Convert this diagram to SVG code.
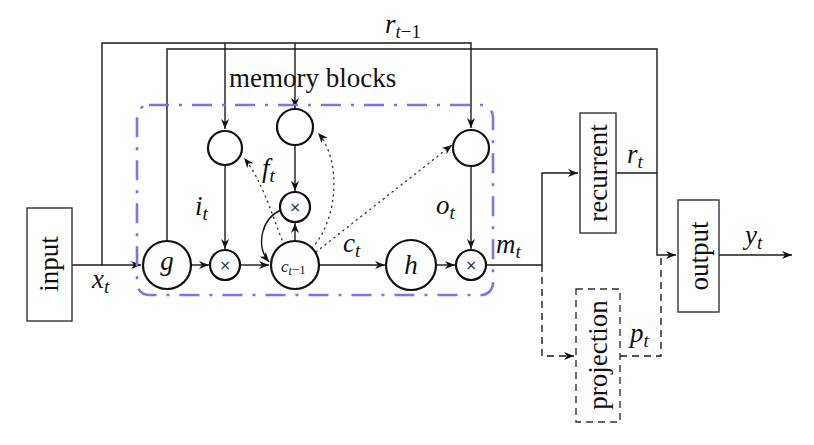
<svg xmlns="http://www.w3.org/2000/svg" width="814" height="445" viewBox="0 0 814 445">
<style>
.ln{fill:none;stroke:#1a1a1a;stroke-width:1.4}
.dl{fill:none;stroke:#1a1a1a;stroke-width:1.4;stroke-dasharray:7 5}
.dot{fill:none;stroke:#333;stroke-width:1.3;stroke-dasharray:1.2 4.5;stroke-linecap:round}
.circ{fill:#fff;stroke:#111;stroke-width:2.2}
.box{fill:#fff;stroke:#333;stroke-width:1.4}
.dbox{fill:#fff;stroke:#333;stroke-width:1.4;stroke-dasharray:7 5}
.lbl{font-family:"Liberation Serif",serif;font-size:27px;fill:#111}
.m{font-family:"Liberation Serif",serif;font-style:italic;font-size:27px;fill:#111}
.s{font-size:19px}
.x{font-family:"DejaVu Sans",sans-serif;font-size:14px;fill:#222;text-anchor:middle}
</style>
<defs>
<marker id="a" viewBox="0 0 10 10" refX="10" refY="5" markerWidth="10" markerHeight="10" markerUnits="userSpaceOnUse" orient="auto"><path d="M0,1 L10,5 L0,9 L3,5 z" fill="#111"/></marker>
</defs>
<g id="connectors">
<polyline class="ln" points="72,265 102,265 102,43 471,43 471,128" marker-end="url(#a)"/>
<line class="ln" x1="102" y1="265" x2="141" y2="265" marker-end="url(#a)"/>
<line class="ln" x1="225" y1="43" x2="225" y2="129" marker-end="url(#a)"/>
<line class="ln" x1="295" y1="43" x2="295" y2="108" marker-end="url(#a)"/>
<polyline class="ln" points="167,241 167,49 657,49 657,255 676,255" marker-end="url(#a)"/>
<line class="ln" x1="225" y1="165" x2="225" y2="249" marker-end="url(#a)"/>
<line class="ln" x1="295" y1="145" x2="295" y2="191" marker-end="url(#a)"/>
<line class="ln" x1="471" y1="166" x2="471" y2="249" marker-end="url(#a)"/>
<line class="ln" x1="191" y1="265" x2="209" y2="265" marker-end="url(#a)"/>
<line class="ln" x1="240" y1="265" x2="269" y2="265" marker-end="url(#a)"/>
<line class="ln" x1="320" y1="265" x2="385" y2="265" marker-end="url(#a)"/>
<line class="ln" x1="436" y1="265" x2="455" y2="265" marker-end="url(#a)"/>
<line class="ln" x1="295" y1="282" x2="295" y2="223" marker-end="url(#a)"/>
<path class="ln" d="M281,210 C262,218 255,245 269,262" marker-end="url(#a)"/>
<polyline class="ln" points="486,265 542,265 542,173 578,173" marker-end="url(#a)"/>
<polyline class="ln" points="616,173 657,173"/>
<line class="ln" x1="719" y1="255" x2="792" y2="255" marker-end="url(#a)"/>
<polyline class="dl" points="542,265 542,356 574,356" marker-end="url(#a)"/>
<polyline class="dl" points="620,356 661,356 661,257"/>
<path class="dot" d="M284,245 C272,215 262,180 244,158" marker-end="url(#a)"/>
<path class="dot" d="M312,248 C338,220 342,160 318,133" marker-end="url(#a)"/>
<path class="dot" d="M316,252 L452,145" marker-end="url(#a)"/>
</g>
<rect x="137" y="105" width="356" height="190" rx="12" fill="none" stroke="#7676ee" stroke-width="2.6" stroke-dasharray="20 10 3 10"/>
<g id="input"><rect class="box" x="27" y="208" width="45" height="113"/><text class="lbl" transform="translate(58,264) rotate(-90)" text-anchor="middle">input</text></g>
<g id="g"><circle class="circ" cx="167" cy="265" r="24"/><text class="m" x="167" y="270" text-anchor="middle">g</text></g>
<g id="mul_i"><circle class="circ" cx="225" cy="265" r="15"/><text class="x" x="225" y="270">×</text></g>
<g id="c"><circle class="circ" cx="295" cy="265" r="24"/><text x="281" y="272" font-family="Liberation Serif,serif" font-style="italic" font-size="17" fill="#222">c<tspan font-size="12" dy="3">t</tspan><tspan font-size="13" dy="-1" font-style="normal">−1</tspan></text></g>
<g id="h"><circle class="circ" cx="411" cy="265" r="25"/><text class="m" x="411" y="274" text-anchor="middle">h</text></g>
<g id="mul_o"><circle class="circ" cx="471" cy="265" r="15"/><text class="x" x="471" y="270">×</text></g>
<g id="gate_i"><circle class="circ" cx="225" cy="148" r="17"/></g>
<g id="gate_f"><circle class="circ" cx="295" cy="127" r="18"/></g>
<g id="gate_o"><circle class="circ" cx="471" cy="148" r="18"/></g>
<g id="mul_f"><circle class="circ" cx="295" cy="207" r="15"/><text class="x" x="295" y="212">×</text></g>
<g id="recurrent"><rect class="box" x="580" y="113" width="36" height="120"/><text class="lbl" transform="translate(607,173) rotate(-90)" text-anchor="middle">recurrent</text></g>
<g id="output"><rect class="box" x="678" y="200" width="41" height="112"/><text class="lbl" transform="translate(708,256) rotate(-90)" text-anchor="middle">output</text></g>
<g id="projection"><rect class="dbox" x="576" y="289" width="44" height="133"/><text class="lbl" transform="translate(607,355) rotate(-90)" text-anchor="middle">projection</text></g>
<g id="labels">
<text class="lbl" x="229" y="87">memory blocks</text>
<text class="m" x="385" y="33">r<tspan class="s" dy="5">t</tspan><tspan class="s" font-style="normal">−1</tspan></text>
<text class="m" x="92" y="288">x<tspan class="s" dy="5">t</tspan></text>
<text class="m" x="343" y="252">c<tspan class="s" dy="5">t</tspan></text>
<text class="m" x="496" y="253">m<tspan class="s" dy="5">t</tspan></text>
<text class="m" x="195" y="215">i<tspan class="s" dy="5">t</tspan></text>
<text class="m" x="262" y="177">f<tspan class="s" dy="5">t</tspan></text>
<text class="m" x="436" y="214">o<tspan class="s" dy="5">t</tspan></text>
<text class="m" x="627" y="163">r<tspan class="s" dy="5">t</tspan></text>
<text class="m" x="745" y="244">y<tspan class="s" dy="5">t</tspan></text>
<text class="m" x="630" y="342">p<tspan class="s" dy="5">t</tspan></text>
</g>
</svg>
